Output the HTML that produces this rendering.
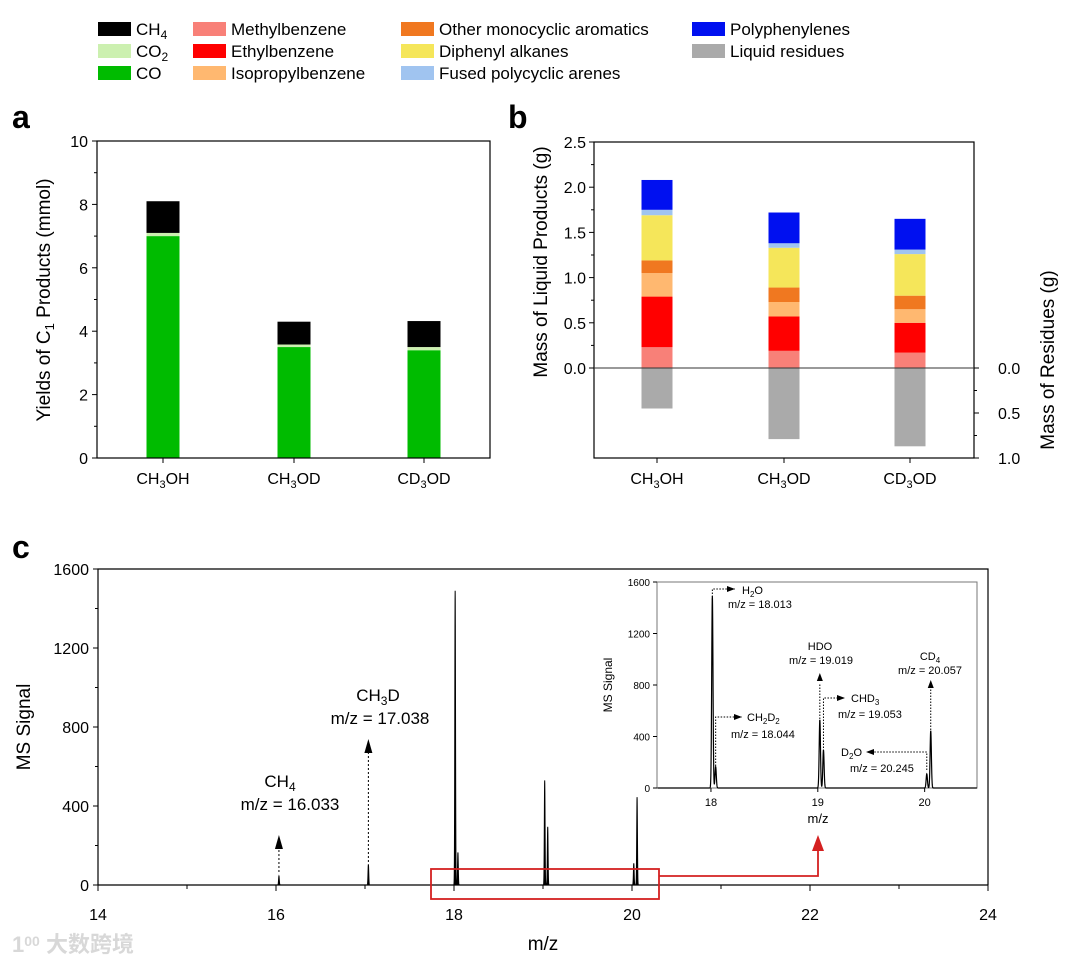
<!DOCTYPE html>
<html><head><meta charset="utf-8"><style>
html,body{margin:0;padding:0;background:#fff;}
svg{display:block;font-family:"Liberation Sans","Noto Sans CJK SC",sans-serif;}
</style></head><body>
<svg id="fig" width="1073" height="965" viewBox="0 0 1073 965" xmlns="http://www.w3.org/2000/svg"></svg>
<script>
// ---------- DATA ----------
const catsA = ["CH3OH","CH3OD","CD3OD"];
const coVals = [7.0, 3.5, 3.4];
const co2Vals = [0.1, 0.08, 0.1];
const ch4Vals = [1.0, 0.72, 0.82];
const ticksA = [0,2,4,6,8,10];

const methylVals = [0.23, 0.19, 0.17];
const ethylVals = [0.56, 0.38, 0.33];
const isoVals = [0.26, 0.16, 0.15];
const otherMonoVals = [0.14, 0.16, 0.15];
const diphenylVals = [0.50, 0.44, 0.46];
const fusedVals = [0.06, 0.05, 0.05];
const polyVals = [0.33, 0.34, 0.34];
const residueVals = [0.45, 0.79, 0.87];
const ticksBL = [0,0.5,1.0,1.5,2.0,2.5];
const ticksBR = [0,0.5,1.0];

const peakMz = [16.033, 17.038, 18.013, 18.044, 19.019, 19.053, 20.020, 20.057];
const peakHeights = [45, 105, 1490, 165, 530, 295, 110, 445];
const ticksCx = [14,16,18,20,22,24];
const ticksCy = [0,400,800,1200,1600];
const insetTicksX = [18,19,20];
const insetTicksY = [0,400,800,1200,1600];

// ---------- HELPERS ----------
const svg = document.getElementById('fig');
const NS = "http://www.w3.org/2000/svg";
function mk(tag, attrs, parent){
  const e = document.createElementNS(NS, tag);
  for (const k in attrs) e.setAttribute(k, attrs[k]);
  (parent||svg).appendChild(e);
  return e;
}
function txt(x,y,s,size,anchor,parent,extra){
  const t = mk('text',Object.assign({x:x,y:y,'font-size':size,'text-anchor':anchor||'start',fill:'#000'},extra||{}),parent);
  t.innerHTML = s;
  return t;
}
function sub(s){ return s.replace(/(\d)/g,'<tspan font-size="75%" dy="4">$1</tspan><tspan dy="-4">\u200b</tspan>'); }

// ---------- LEGEND ----------
const legend = [
  [98,22,"#000000","CH<tspan font-size='12' dy='4'>4</tspan>"],
  [98,44,"#ccf0b0","CO<tspan font-size='12' dy='4'>2</tspan>"],
  [98,66,"#00bb00","CO"],
  [193,22,"#f88078","Methylbenzene"],
  [193,44,"#ff0000","Ethylbenzene"],
  [193,66,"#ffb870","Isopropylbenzene"],
  [401,22,"#f07820","Other monocyclic aromatics"],
  [401,44,"#f5e65a","Diphenyl alkanes"],
  [401,66,"#a0c4f0","Fused polycyclic arenes"],
  [692,22,"#0010f0","Polyphenylenes"],
  [692,44,"#aaaaaa","Liquid residues"]
];
const lg = mk('g',{});
legend.forEach(l=>{
  const g = mk('g',{},lg);
  
  
  mk('rect',{x:l[0],y:l[1],width:33,height:14,fill:l[2]},g);
  txt(l[0]+38,l[1]+13,l[3],17,'start',g);
});

// ---------- PANEL A ----------
const A = {x0:97,x1:490,y0:141,y1:458,max:10};
const ya = v => A.y1 - v/A.max*(A.y1-A.y0);
const xaCenters = [163,294,424];
const ga = mk('g',{});
txt(12,128,'a',32,'start',ga,{'font-weight':'bold'});
catsA.forEach((c,i)=>{
  const cx = xaCenters[i], w=33;
  let base=0;
  [[coVals,'#00bb00','bar-co'],[co2Vals,'#ccf0b0','bar-co2'],[ch4Vals,'#000','bar-ch4']].forEach(s=>{
    const v=s[0][i];
    const r=mk('rect',{x:cx-w/2,y:ya(base+v),width:w,height:ya(base)-ya(base+v),fill:s[1]},ga);
    
    
    base+=v;
  });
});
mk('rect',{x:A.x0,y:A.y0,width:A.x1-A.x0,height:A.y1-A.y0,fill:'none',stroke:'#000','stroke-width':1.2},ga);
ticksA.forEach(t=>{
  mk('line',{x1:A.x0-5,x2:A.x0,y1:ya(t),y2:ya(t),stroke:'#000'},ga);
  txt(A.x0-9,ya(t)+6,String(t),16,'end',ga);
  if(t<10) mk('line',{x1:A.x0-3,x2:A.x0,y1:ya(t+1),y2:ya(t+1),stroke:'#000'},ga);
});
xaCenters.forEach((cx,i)=>{
  mk('line',{x1:cx,x2:cx,y1:A.y1,y2:A.y1+5,stroke:'#000'},ga);
  const lab=["CH<tspan font-size='11' dy='4'>3</tspan><tspan dy='-4'>OH</tspan>","CH<tspan font-size='11' dy='4'>3</tspan><tspan dy='-4'>OD</tspan>","CD<tspan font-size='11' dy='4'>3</tspan><tspan dy='-4'>OD</tspan>"][i];
  txt(cx,484,lab,16,'middle',ga);
});
txt(0,0,"Yields of C<tspan font-size='13' dy='4'>1</tspan><tspan dy='-4'> Products (mmol)</tspan>",19,'middle',ga,{transform:'translate(50,300) rotate(-90)'});

// ---------- PANEL B ----------
const B = {x0:594,x1:974,y0:142,y1:458,zero:368};
const yb = v => B.zero - v*((B.zero-B.y0)/2.5);
const yr = v => B.zero + v*((B.y1-B.zero)/1.0);
const xbCenters = [657,784,910];
const gb = mk('g',{});
txt(508,128,'b',32,'start',gb,{'font-weight':'bold'});
const seriesB = [[methylVals,'#f88078','bar-methylbenzene'],[ethylVals,'#ff0000','bar-ethylbenzene'],[isoVals,'#ffb870','bar-isopropylbenzene'],[otherMonoVals,'#f07820','bar-other-monocyclic'],[diphenylVals,'#f5e65a','bar-diphenyl-alkanes'],[fusedVals,'#a0c4f0','bar-fused-polycyclic'],[polyVals,'#0010f0','bar-polyphenylenes']];
catsA.forEach((c,i)=>{
  const cx=xbCenters[i], w=31;
  let base=0;
  seriesB.forEach(s=>{
    const v=s[0][i];
    const r=mk('rect',{x:cx-w/2,y:yb(base+v),width:w,height:yb(base)-yb(base+v),fill:s[1]},gb);
    
    
    base+=v;
  });
  const rr=mk('rect',{x:cx-w/2,y:B.zero,width:w,height:yr(residueVals[i])-B.zero,fill:'#aaaaaa'},gb);
  
  
});
mk('rect',{x:B.x0,y:B.y0,width:B.x1-B.x0,height:B.y1-B.y0,fill:'none',stroke:'#000','stroke-width':1.2},gb);
mk('line',{x1:B.x0,x2:B.x1,y1:B.zero,y2:B.zero,stroke:'#333','stroke-width':1},gb);
ticksBL.forEach(t=>{
  mk('line',{x1:B.x0-5,x2:B.x0,y1:yb(t),y2:yb(t),stroke:'#000'},gb);
  txt(B.x0-8,yb(t)+6,t.toFixed(1),16,'end',gb);
  if(t<2.5) mk('line',{x1:B.x0-3,x2:B.x0,y1:yb(t+0.25),y2:yb(t+0.25),stroke:'#000'},gb);
});
ticksBR.forEach(t=>{
  mk('line',{x1:B.x1,x2:B.x1+5,y1:yr(t),y2:yr(t),stroke:'#000'},gb);
  txt(B.x1+24,yr(t)+6,t.toFixed(1),16,'start',gb);
  if(t<1) mk('line',{x1:B.x1,x2:B.x1+3,y1:yr(t+0.25),y2:yr(t+0.25),stroke:'#000'},gb);
});
xbCenters.forEach((cx,i)=>{
  mk('line',{x1:cx,x2:cx,y1:B.y1,y2:B.y1+5,stroke:'#000'},gb);
  const lab=["CH<tspan font-size='11' dy='4'>3</tspan><tspan dy='-4'>OH</tspan>","CH<tspan font-size='11' dy='4'>3</tspan><tspan dy='-4'>OD</tspan>","CD<tspan font-size='11' dy='4'>3</tspan><tspan dy='-4'>OD</tspan>"][i];
  txt(cx,484,lab,16,'middle',gb);
});
txt(0,0,"Mass of Liquid Products (g)",19,'middle',gb,{transform:'translate(547,262) rotate(-90)'});
txt(0,0,"Mass of Residues (g)",19,'middle',gb,{transform:'translate(1054,360) rotate(-90)'});

// ---------- PANEL C ----------
const C = {x0:98,x1:988,y0:569,y1:885,xmin:14,xmax:24,ymax:1600};
const xc = v => C.x0 + (v-C.xmin)/(C.xmax-C.xmin)*(C.x1-C.x0);
const yc = v => C.y1 - v/C.ymax*(C.y1-C.y0);
const gc = mk('g',{});
txt(12,558,'c',32,'start',gc,{'font-weight':'bold'});
function spectrumPath(xf,yf,lo,hi,sig,step){
  let d='';
  for(let m=lo;m<=hi;m+=step){
    let s=0;
    peakMz.forEach((p,k)=>{const z=(m-p)/sig; if(Math.abs(z)<6) s+=peakHeights[k]*Math.exp(-z*z/2);});
    d+=(d?'L':'M')+xf(m).toFixed(2)+','+yf(s).toFixed(2);
  }
  return d;
}
const sp=mk('path',{d:spectrumPath(xc,yc,14,24,0.004,0.001),fill:'#000',stroke:'#000','stroke-width':1},gc);


mk('path',{d:`M${C.x0},${C.y1}V${C.y0}H${C.x1}V${C.y1}`,fill:'none',stroke:'#000','stroke-width':1.2},gc);
mk('line',{x1:C.x0,x2:C.x1,y1:C.y1,y2:C.y1,stroke:'#000','stroke-width':1.2},gc);
ticksCy.forEach(t=>{
  mk('line',{x1:C.x0-5,x2:C.x0,y1:yc(t),y2:yc(t),stroke:'#000'},gc);
  txt(C.x0-9,yc(t)+6,String(t),16,'end',gc);
  if(t<1600) mk('line',{x1:C.x0-3,x2:C.x0,y1:yc(t+200),y2:yc(t+200),stroke:'#000'},gc);
});
ticksCx.forEach(t=>{
  mk('line',{x1:xc(t),x2:xc(t),y1:C.y1,y2:C.y1+6,stroke:'#000'},gc);
  txt(xc(t),C.y1+35,String(t),16,'middle',gc);
  if(t<24) mk('line',{x1:xc(t+1),x2:xc(t+1),y1:C.y1,y2:C.y1+4,stroke:'#000'},gc);
});
txt(543,950,'m/z',19,'middle',gc);
txt(0,0,'MS Signal',19,'middle',gc,{transform:'translate(30,727) rotate(-90)'});
// annotation arrows main
function upArrow(x,yBot,yTop,g){
  mk('line',{x1:x,x2:x,y1:yBot,y2:yTop+12,stroke:'#000','stroke-dasharray':'2,2'},g);
  mk('path',{d:`M${x-4},${yTop+14}L${x},${yTop}L${x+4},${yTop+14}Z`,fill:'#000'},g);
}
upArrow(xc(16.033),872,835,gc);
upArrow(xc(17.038),862,739,gc);
txt(280,787,"CH<tspan font-size='12' dy='4'>4</tspan>",17,'middle',gc);
txt(290,810,"m/z = 16.033",17,'middle',gc);
txt(378,701,"CH<tspan font-size='12' dy='4'>3</tspan><tspan dy='-4'>D</tspan>",17,'middle',gc);
txt(380,724,"m/z = 17.038",17,'middle',gc);
// red zoom box and arrow
mk('rect',{x:431,y:869,width:228,height:30,fill:'none',stroke:'#d42020','stroke-width':1.8},gc);
mk('path',{d:'M659,876H818V850',fill:'none',stroke:'#d42020','stroke-width':1.8},gc);
mk('path',{d:'M812,851L818,835L824,851Z',fill:'#d42020'},gc);

// ---------- INSET ----------
const I = {x0:657,x1:977,y0:582,y1:788,xmin:17.495,xmax:20.49,ymax:1600};
const xi = v => I.x0 + (v-I.xmin)/(I.xmax-I.xmin)*(I.x1-I.x0);
const yi = v => I.y1 - v/I.ymax*(I.y1-I.y0);
const gi = mk('g',{});
mk('rect',{x:I.x0,y:I.y0,width:I.x1-I.x0,height:I.y1-I.y0,fill:'#fff',stroke:'#777','stroke-width':1},gi);
const ip=mk('path',{d:spectrumPath(xi,yi,17.5,20.49,0.006,0.001),fill:'none',stroke:'#000','stroke-width':1.2},gi);


insetTicksY.forEach(t=>{
  mk('line',{x1:I.x0-4,x2:I.x0,y1:yi(t),y2:yi(t),stroke:'#000'},gi);
  txt(I.x0-7,yi(t)+4,String(t),10,'end',gi);
});
insetTicksX.forEach(t=>{
  mk('line',{x1:xi(t),x2:xi(t),y1:I.y1,y2:I.y1+4,stroke:'#000'},gi);
  txt(xi(t),I.y1+18,String(t),11,'middle',gi);
});
txt(818,823,'m/z',13,'middle',gi);
txt(0,0,'MS Signal',12,'middle',gi,{transform:'translate(612,685) rotate(-90)'});
function dot(d){ mk('path',{d:d,fill:'none',stroke:'#000','stroke-dasharray':'1.5,1.5','stroke-width':1},gi); }
function rhead(x,y){ mk('path',{d:`M${x-8},${y-3}L${x},${y}L${x-8},${y+3}Z`,fill:'#000'},gi); }
function lhead(x,y){ mk('path',{d:`M${x+8},${y-3}L${x},${y}L${x+8},${y+3}Z`,fill:'#000'},gi); }
function uhead(x,y){ mk('path',{d:`M${x-3},${y+8}L${x},${y}L${x+3},${y+8}Z`,fill:'#000'},gi); }
dot(`M${xi(18.013)},600V589H735`); rhead(735,589);
txt(742,594,"H<tspan font-size='8' dy='3'>2</tspan><tspan dy='-3'>O</tspan>",11,'start',gi);
txt(728,608,"m/z = 18.013",11,'start',gi);
dot(`M${xi(18.044)},775V717H742`); rhead(742,717);
txt(747,721,"CH<tspan font-size='8' dy='3'>2</tspan><tspan dy='-3'>D</tspan><tspan font-size='8' dy='3'>2</tspan>",11,'start',gi);
txt(731,738,"m/z = 18.044",11,'start',gi);
dot(`M${xi(19.019)},740V683`); uhead(xi(19.019),673);
txt(820,650,"HDO",11,'middle',gi);
txt(821,664,"m/z = 19.019",11,'middle',gi);
dot(`M${xi(19.053)},760V698H845`); rhead(845,698);
txt(851,702,"CHD<tspan font-size='8' dy='3'>3</tspan>",11,'start',gi);
txt(838,718,"m/z = 19.053",11,'start',gi);
dot(`M${xi(20.057)},730V688`); uhead(xi(20.057),680);
txt(930,660,"CD<tspan font-size='8' dy='3'>4</tspan>",11,'middle',gi);
txt(930,674,"m/z = 20.057",11,'middle',gi);
dot(`M${xi(20.020)},770V752H873`); lhead(866,752);
txt(862,756,"D<tspan font-size='8' dy='3'>2</tspan><tspan dy='-3'>O</tspan>",11,'end',gi);
txt(850,772,"m/z = 20.245",11,'start',gi);

// watermark
const wm = txt(12,952,'1<tspan font-size="14" dy="-6">00</tspan><tspan dy="6"> 大数跨境</tspan>',22,'start',null,{fill:'#d8d8d8','font-weight':'bold'});


</script>
</body></html>
